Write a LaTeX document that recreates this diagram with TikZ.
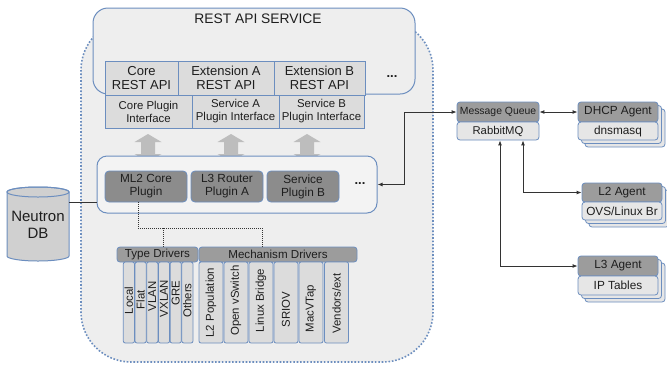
\documentclass[tikz,border=0pt]{standalone}
\usepackage{fontspec}
\setmainfont{Liberation Sans}
\usetikzlibrary{arrows.meta,calc}
\definecolor{bl}{HTML}{6C8EBF}
\definecolor{bgg}{HTML}{EEEEEE}
\definecolor{plbg}{HTML}{F3F3F3}
\definecolor{cellg}{HTML}{DCDCDC}
\definecolor{darkg}{HTML}{8C8C8C}
\definecolor{hdrg}{HTML}{9C9C9C}
\definecolor{arrg}{HTML}{BDBDBD}
\definecolor{dbg}{HTML}{D0D0D0}
\definecolor{txt}{HTML}{1E1E1E}
\definecolor{ln}{HTML}{333333}
\newcommand\myfs[2]{\fontsize{#1}{#2}\selectfont}
\newcommand\fatarr[1]{\fill[arrg] (#1,134) -- ++(13.5,8) -- ++(-6.5,0) -- ++(0,12) -- ++(6.5,0) -- (#1,162) -- ++(-13.5,-8) -- ++(6.5,0) -- ++(0,-12) -- ++(-6.5,0) -- cycle;}
\begin{document}
\begin{tikzpicture}[x=1pt,y=-1pt,
  every node/.style={text=txt},
  cell/.style={draw=bl, fill=cellg, line width=0.8, inner sep=0, align=center},
  plug/.style={draw=bl, fill=darkg, line width=0.8, rounded corners=4, inner sep=0, align=center, font=\myfs{11.8}{13}},
  hdr/.style={draw=bl, fill=hdrg, line width=0.8, rounded corners=3, inner sep=0, align=center},
  col/.style={draw=bl, fill=cellg, line width=0.8, rounded corners=2, inner sep=0, minimum height=81},
  collab/.style={rotate=90, inner sep=0, font=\myfs{11.4}{12}},
  bodyb/.style={draw=bl, fill=cellg!70!white, line width=0.8, rounded corners=3, inner sep=0, align=center},
  stackb/.style={draw=bl, fill=cellg!70!white, line width=0.8, rounded corners=3, inner sep=0},
  conn/.style={draw=ln, line width=0.9, {Latex[length=5,width=4]}-{Latex[length=5,width=4]}},
  dotline/.style={draw=ln, line width=0.8, dash pattern=on 1 off 1},
  dots/.style={font=\myfs{13}{13}\bfseries, inner sep=0}
]
\useasboundingbox (0,0) rectangle (667,368);
\fill[white] (0,0) rectangle (667,368);

% big dotted container
\path[draw=bl, line width=1.6, dash pattern=on 1.6 off 1.8, fill=bgg, rounded corners=50] (81,20) rectangle (433,362);

% REST API service
\node[draw=bl, fill=bgg, line width=1, rounded corners=15, minimum width=322, minimum height=86, inner sep=0] (rest) at (254,51) {};
\node[font=\myfs{13.8}{15}] (rtitle) at (258,19) {REST API SERVICE};

\node[cell, minimum width=73, minimum height=34, font=\myfs{13}{14.5}] (core) at (141.5,78) {Core\\REST API};
\node[cell, minimum width=96, minimum height=34, font=\myfs{13}{14.5}] (exta) at (226,78) {Extension A\\REST API};
\node[cell, minimum width=91, minimum height=34, font=\myfs{13}{14.5}] (extb) at (319.5,78) {Extension B\\REST API};
\node[dots] (dots1) at (392,77) {...};

\node[cell, minimum width=87, minimum height=33, font=\myfs{11.4}{13}] (cpi) at (148.5,111.5) {Core Plugin\\Interface};
\node[cell, minimum width=87, minimum height=33, font=\myfs{11.4}{13}] (spa) at (235.5,111.5) {Service A\\Plugin Interface};
\node[cell, minimum width=85, minimum height=33, font=\myfs{11.4}{13}] (spb) at (321.5,111.5) {Service B\\Plugin Interface};

% fat arrows
\fatarr{148}
\fatarr{231}
\fatarr{307}

% plugin box
\node[draw=bl, fill=plbg, line width=1, rounded corners=10, minimum width=280, minimum height=57, inner sep=0] (pbox) at (237,184.5) {};
\node[plug, minimum width=82, minimum height=31] (ml2) at (146,186.5) {ML2 Core\\Plugin};
\node[plug, minimum width=72, minimum height=31] (l3r) at (227,186.5) {L3 Router\\Plugin A};
\node[plug, minimum width=72, minimum height=31] (svb) at (303,186.5) {Service\\Plugin B};
\node[dots] (dots2) at (360,184) {...};

% Neutron DB
\path[draw=bl, fill=dbg, line width=1] (7,192) -- (7,256) arc[start angle=180, end angle=0, x radius=31, y radius=5] -- (69,192) arc[start angle=0, end angle=-180, x radius=31, y radius=5] -- cycle;
\draw[bl, line width=1] (38,192) ellipse [x radius=31, y radius=5];
\node[minimum width=62, minimum height=74, inner sep=0, align=center, font=\myfs{15}{16.5}] (db) at (38,225) {Neutron\\DB};
\draw[ln, line width=0.9] ([yshift=23]db.east) -- ([yshift=23]db.east -| pbox.west);

% drivers
\node[hdr, minimum width=81, minimum height=15, font=\myfs{11.6}{12}] (typeh) at (157.5,254.5) {Type Drivers};
\node[hdr, minimum width=158, minimum height=15, font=\myfs{11.6}{12}] (mech) at (278,254.5) {Mechanism Drivers};
\draw[dotline] ([xshift=-8]ml2.south) -- ++(0,26) -| ([xshift=-16]mech.north);
\draw[dotline] ([xshift=5.5]typeh.north) -- ++(0,-19);

\node[col, minimum width=11.2] (t1) at (128.9,302.5) {};
\node[col, minimum width=11.2] (t2) at (140.6,302.5) {};
\node[col, minimum width=11.2] (t3) at (152.3,302.5) {};
\node[col, minimum width=11.2] (t4) at (164.0,302.5) {};
\node[col, minimum width=11.2] (t5) at (175.7,302.5) {};
\node[col, minimum width=11.2] (t6) at (187.4,302.5) {};
\node[collab] at ([yshift=2]t1.center) {Local};
\node[collab] at ([yshift=3]t2.center) {Flat};
\node[collab] at ([yshift=6]t3.center) {VLAN};
\node[collab] at ([yshift=4]t4.center) {VXLAN};
\node[collab] at ([yshift=9]t5.center) {GRE};
\node[collab] at ([yshift=2]t6.center) {Others};

\node[col, minimum width=24] (m1) at (211,302.5) {};
\node[col, minimum width=24] (m2) at (236,302.5) {};
\node[col, minimum width=24] (m3) at (261,302.5) {};
\node[col, minimum width=24] (m4) at (286,302.5) {};
\node[col, minimum width=24] (m5) at (311,302.5) {};
\node[col, minimum width=24] (m6) at (336.5,302.5) {};
\node[collab] at (m1.center) {L2 Population};
\node[collab] at ([yshift=2]m2.center) {Open vSwitch};
\node[collab] at ([yshift=2]m3.center) {Linux Bridge};
\node[collab] at ([yshift=-7]m4.center) {SRIOV};
\node[collab] at ([yshift=-6]m5.center) {MacVTap};
\node[collab] at ([yshift=-1]m6.center) {Vendors/ext};

% message queue
\node[hdr, minimum width=82, minimum height=20, font=\myfs{10.4}{11}] (mqh) at (498,112) {Message Queue};
\node[bodyb, minimum width=82, minimum height=18, font=\myfs{11.3}{12}] (mqb) at (498,131) {RabbitMQ};

% DHCP agent
\node[stackb, minimum width=80, minimum height=38] (dh2) at (625,128) {};
\node[stackb, minimum width=80, minimum height=38] (dh1) at (621.5,124.5) {};
\node[hdr, minimum width=80, minimum height=20, font=\myfs{11.8}{12}] (dhh) at (618,112) {DHCP Agent};
\node[bodyb, minimum width=80, minimum height=18, font=\myfs{11.8}{12}] (dhb) at (618,131) {dnsmasq};

% L2 agent
\node[stackb, minimum width=80, minimum height=37] (l22) at (629,208.5) {};
\node[stackb, minimum width=80, minimum height=37] (l21) at (625.5,205) {};
\node[hdr, minimum width=80, minimum height=19, font=\myfs{11.8}{12}] (l2h) at (622,192.5) {L2 Agent};
\node[bodyb, minimum width=80, minimum height=18, font=\myfs{11.8}{12}] (l2b) at (622,211) {OVS/Linux Br};

% L3 agent
\node[stackb, minimum width=80, minimum height=39] (l32) at (625,282.5) {};
\node[stackb, minimum width=80, minimum height=39] (l31) at (621.5,279) {};
\node[hdr, minimum width=80, minimum height=20, font=\myfs{11.8}{12}] (l3h) at (618,266) {L3 Agent};
\node[bodyb, minimum width=80, minimum height=19, font=\myfs{11.8}{12}] (l3b) at (618,285.5) {IP Tables};

% connectors
\draw[conn] (pbox.east) -- ++(27,0) |- (mqh.west);
\draw[conn] (mqh.east) -- (dhh.west);
\draw[conn] ([xshift=25]mqb.south) |- (l2h.west);
\draw[conn] ([xshift=2]mqb.south) |- (l3h.west);
\end{tikzpicture}
\end{document}
